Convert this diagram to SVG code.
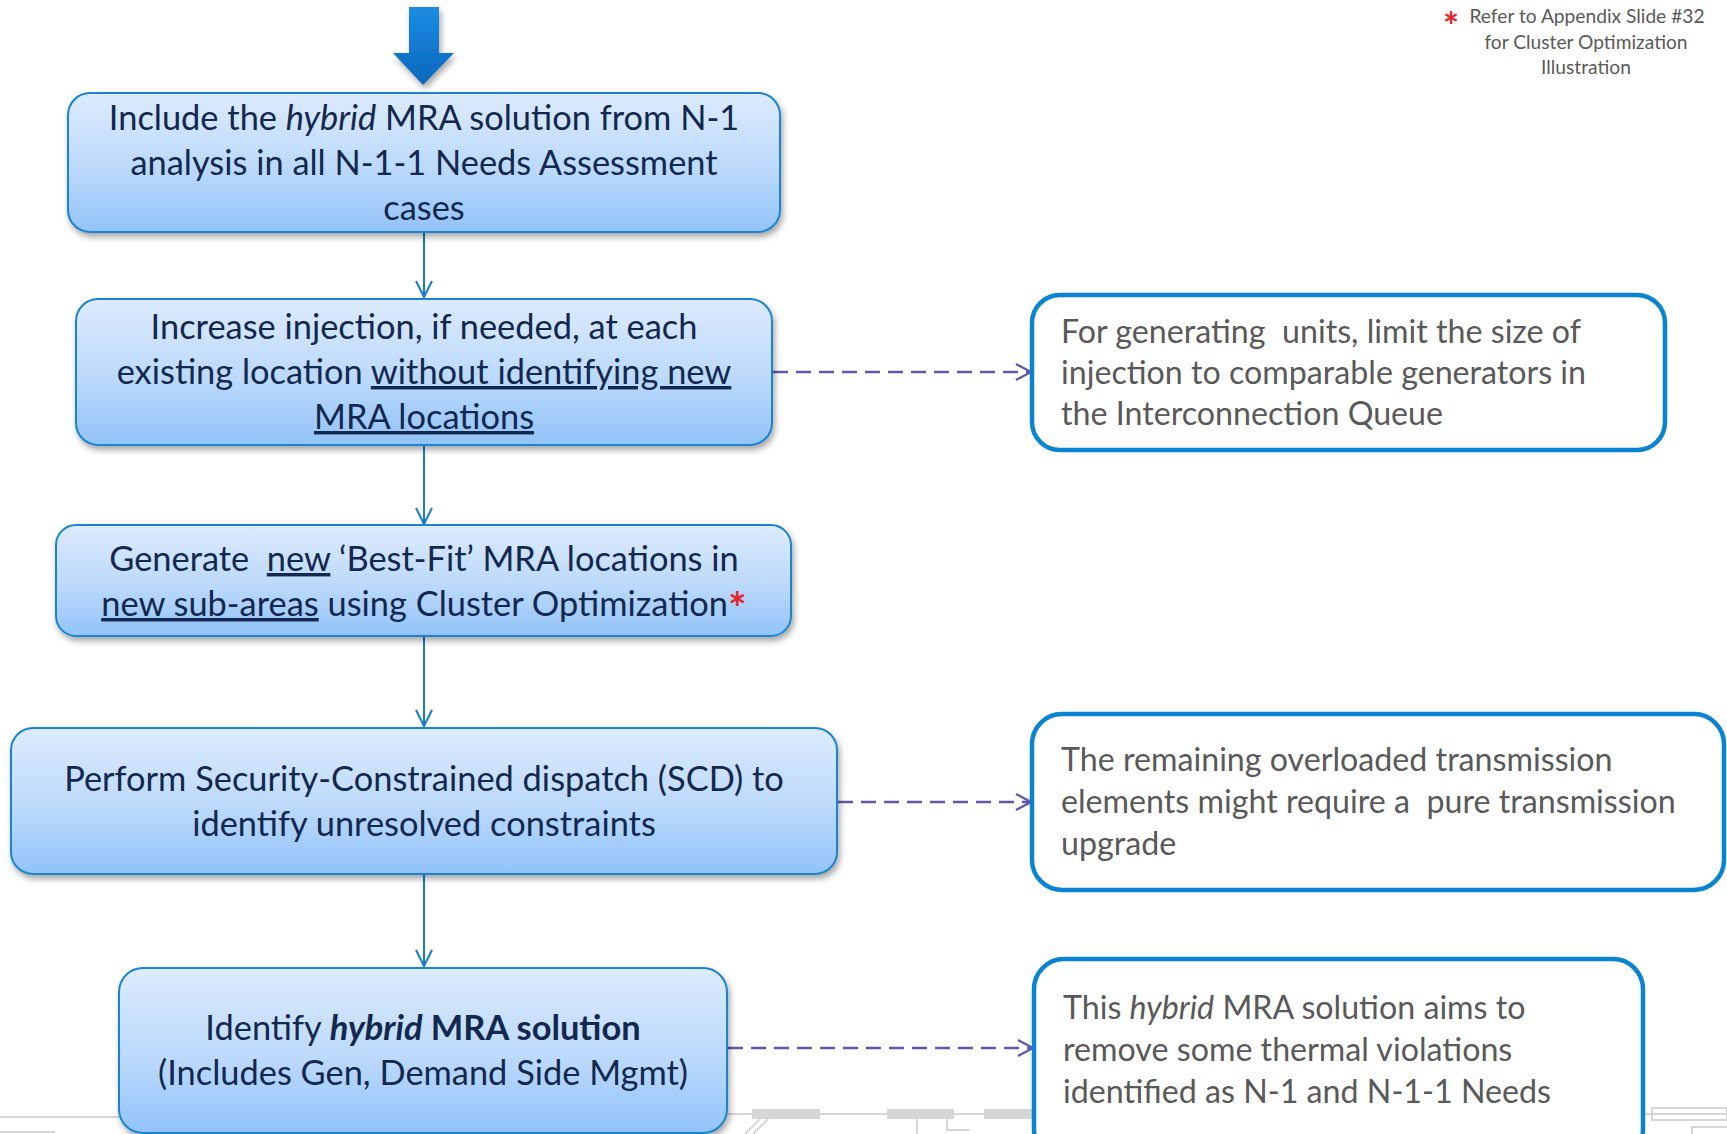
<svg xmlns="http://www.w3.org/2000/svg" width="1727" height="1134" viewBox="0 0 1727 1134">
<defs>
<linearGradient id="boxGrad" x1="0" y1="0" x2="0" y2="1">
<stop offset="0" stop-color="#DDEBFC"/>
<stop offset="0.55" stop-color="#BBD9FB"/>
<stop offset="1" stop-color="#92C3F9"/>
</linearGradient>
<linearGradient id="arrowGrad" x1="0" y1="0" x2="0" y2="1">
<stop offset="0" stop-color="#1C8CE3"/>
<stop offset="1" stop-color="#0A67BC"/>
</linearGradient>
<filter id="shadow" x="-10%" y="-10%" width="120%" height="130%">
<feDropShadow dx="2" dy="4" stdDeviation="3" flood-color="#000" flood-opacity="0.35"/>
</filter>
<marker id="arrowBlue" viewBox="0 0 20 20" refX="18" refY="10" markerWidth="20" markerHeight="20" markerUnits="userSpaceOnUse" orient="auto">
<path d="M2,2 L18,10 L2,18" fill="none" stroke="#167CC8" stroke-width="2"/>
</marker>
<marker id="arrowPurple" viewBox="0 0 20 20" refX="18" refY="10" markerWidth="20" markerHeight="20" markerUnits="userSpaceOnUse" orient="auto">
<path d="M3,2 L18,10 L3,18" fill="none" stroke="#6456AA" stroke-width="2.4"/>
</marker>
</defs>
<style>
.step{fill:url(#boxGrad);stroke:#1A84CF;stroke-width:2;filter:url(#shadow)}
.note{fill:#FFFFFF;stroke:#0A84D0;stroke-width:4.5}
.st{font-family:Lato,"Liberation Sans",sans-serif;font-size:34.4px;fill:#13284E;text-anchor:middle}
.nt{font-family:Lato,"Liberation Sans",sans-serif;font-size:32.2px;fill:#595959}
.fn{font-family:Lato,"Liberation Sans",sans-serif;font-size:19.2px;fill:#595959;text-anchor:middle}
.flow{fill:none;stroke:#167CC8;stroke-width:2;marker-end:url(#arrowBlue)}
.dash{fill:none;stroke:#6456AA;stroke-width:2.7;stroke-dasharray:15 8;marker-end:url(#arrowPurple)}
.deco{fill:none;stroke:#D6D6D6;stroke-width:2}
.decoR{fill:#D6D6D6}
.u{text-decoration:underline}
.red{fill:#E8262A}
</style>
<rect width="1727" height="1134" fill="#FFFFFF"/>

<g id="background-decoration">
<path class="deco" d="M0,1117 H119"/>
<path class="deco" d="M0,1132 H55"/>
<path class="deco" d="M727,1114 H1034"/>
<rect class="decoR" x="752" y="1109" width="68" height="10"/>
<rect class="decoR" x="887" y="1109" width="67" height="10"/>
<rect class="decoR" x="984" y="1109" width="50" height="10"/>
<path class="deco" d="M760,1119 L745,1134 M768,1119 L753,1134"/>
<path class="deco" d="M917,1119 V1134"/>
<path class="deco" d="M947,1119 V1130 H970"/>
<path class="deco" d="M1643,1114 H1727"/>
<rect x="1652" y="1108" width="75" height="12" fill="none" stroke="#D6D6D6" stroke-width="2"/>
<path class="deco" d="M1692,1134 V1127 H1727"/>
</g>

<g id="top-arrow">
<path d="M409,7 H439 V53 H454 L423,85 L393,53 H409 Z" fill="url(#arrowGrad)" filter="url(#shadow)"/>
</g>

<g id="footnote">
<text class="fn" x="1451" y="40" style="fill:#E8262A;font-size:38px;font-weight:bold">*</text>
<text class="fn" x="1587" y="23">Refer to Appendix Slide #32</text>
<text class="fn" x="1586" y="49">for Cluster Optimization</text>
<text class="fn" x="1586" y="74">Illustration</text>
</g>

<g id="connectors">
<path class="flow" d="M424,233 V297"/>
<path class="flow" d="M424,446 V524"/>
<path class="flow" d="M424,637 V726"/>
<path class="flow" d="M424,875 V966"/>
<path class="dash" d="M773,372 H1031"/>
<path class="dash" d="M838,802 H1031"/>
<path class="dash" d="M728,1048 H1033"/>
</g>

<g id="node-include">
<rect class="step" x="68" y="93" width="712" height="139" rx="22"/>
<text class="st" x="424" y="130">Include the <tspan font-style="italic">hybrid</tspan> MRA solution from N-1</text>
<text class="st" x="424" y="175">analysis in all N-1-1 Needs Assessment</text>
<text class="st" x="424" y="220">cases</text>
</g>

<g id="node-increase">
<rect class="step" x="76" y="299" width="696" height="146" rx="22"/>
<text class="st" x="424" y="339">Increase injection, if needed, at each</text>
<text class="st" x="424" y="384">existing location <tspan class="u">without identifying new</tspan></text>
<text class="st" x="424" y="429"><tspan class="u">MRA locations</tspan></text>
</g>

<g id="node-generate">
<rect class="step" x="56" y="525" width="735" height="111" rx="20"/>
<text class="st" x="424" y="571" xml:space="preserve">Generate  <tspan class="u">new</tspan> ‘Best-Fit’ MRA locations in</text>
<text class="st" x="424" y="616"><tspan class="u">new sub-areas</tspan> using Cluster Optimization<tspan class="red" font-weight="bold" font-size="44px" dy="8">*</tspan></text>
</g>

<g id="node-scd">
<rect class="step" x="11" y="728" width="826" height="146" rx="22"/>
<text class="st" x="424" y="791">Perform Security-Constrained dispatch (SCD) to</text>
<text class="st" x="424" y="836">identify unresolved constraints</text>
</g>

<g id="node-hybrid">
<rect class="step" x="119" y="968" width="608" height="165" rx="24"/>
<text class="st" x="423" y="1040">Identify <tspan font-weight="bold" font-style="italic">hybrid</tspan><tspan font-weight="bold"> MRA solution</tspan></text>
<text class="st" x="423" y="1085">(Includes Gen, Demand Side Mgmt)</text>
</g>

<g id="note-generating">
<rect class="note" x="1032" y="295" width="633" height="155" rx="28"/>
<text class="nt" x="1061" y="343" xml:space="preserve">For generating  units, limit the size of</text>
<text class="nt" x="1061" y="384">injection to comparable generators in</text>
<text class="nt" x="1061" y="425">the Interconnection Queue</text>
</g>

<g id="note-transmission">
<rect class="note" x="1032" y="714" width="692" height="176" rx="30"/>
<text class="nt" x="1061" y="771">The remaining overloaded transmission</text>
<text class="nt" x="1061" y="813" xml:space="preserve">elements might require a  pure transmission</text>
<text class="nt" x="1061" y="855">upgrade</text>
</g>

<g id="note-hybrid">
<rect class="note" x="1034" y="959" width="609" height="200" rx="30"/>
<text class="nt" x="1063" y="1019">This <tspan font-style="italic">hybrid</tspan> MRA solution aims to</text>
<text class="nt" x="1063" y="1061">remove some thermal violations</text>
<text class="nt" x="1063" y="1103">identified as N-1 and N-1-1 Needs</text>
</g>
</svg>
